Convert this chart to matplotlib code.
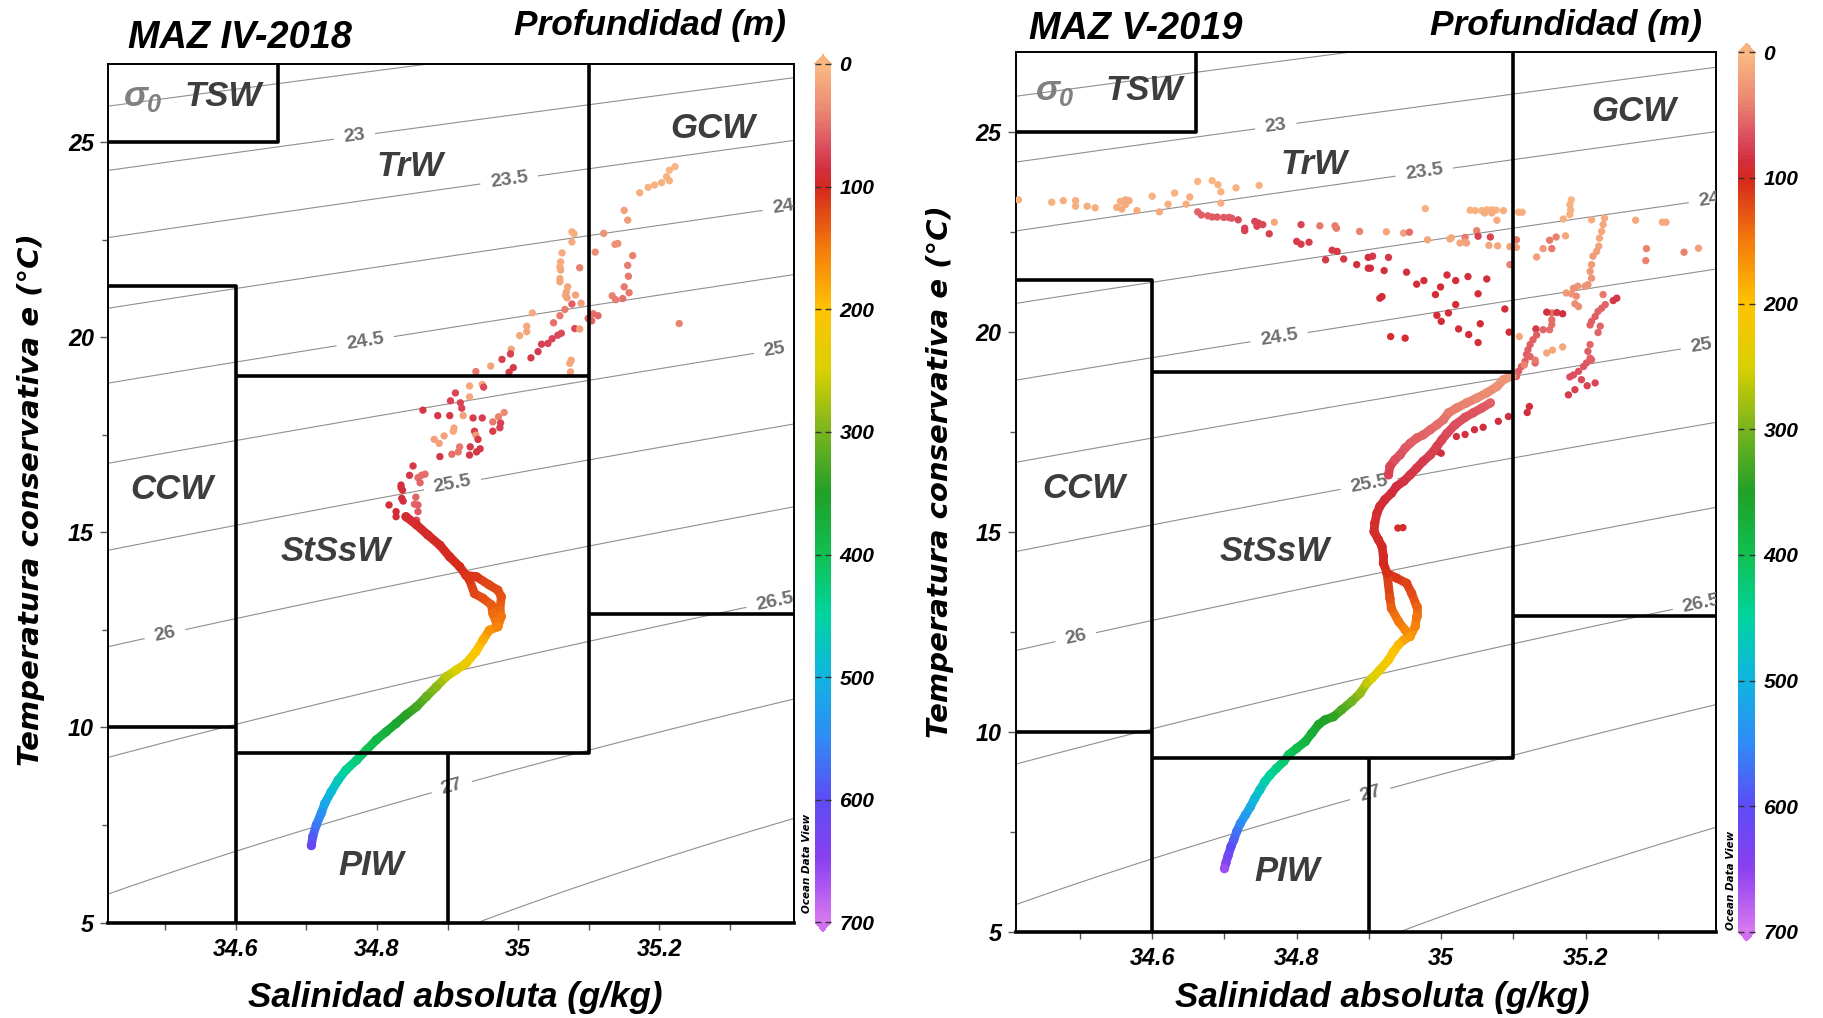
import numpy as np
import matplotlib
matplotlib.use("Agg")
import matplotlib.pyplot as plt
from matplotlib import font_manager
from matplotlib.collections import LineCollection
from matplotlib.colors import LinearSegmentedColormap, Normalize
from matplotlib.ticker import FormatStrFormatter

# ---------------- data ----------------
# MAZ IV-2018, scattered upper-layer samples (SA g/kg, CT degC, depth m)
s18_pts = [35.222, 35.214, 35.210, 35.214, 35.203, 35.193, 35.184, 35.172, 35.150, 35.155,
           35.121, 35.137, 35.141, 35.109, 35.162, 35.155, 35.156, 35.150, 35.133, 35.138,
           35.157, 35.148, 35.106, 35.113, 35.104, 35.099, 35.228, 35.076, 35.079, 35.076,
           35.062, 35.060, 35.059, 35.060, 35.059, 35.059, 35.070, 35.068, 35.067, 35.069,
           35.081, 35.087, 35.089, 35.076, 35.066, 35.059, 35.050, 35.061, 35.056, 35.048,
           35.042, 35.033, 35.028, 35.018, 35.080, 35.087, 35.075, 35.073, 35.074, 35.020,
           35.012, 35.012, 35.002, 34.990, 34.989, 34.977, 34.993, 34.987, 34.961, 34.940,
           34.949, 34.951, 34.931, 34.911, 34.904, 34.918, 34.920, 34.931, 34.922, 34.865,
           34.886, 34.903, 34.936, 34.949, 34.964, 34.972, 34.980, 34.975, 34.974, 34.964,
           34.938, 34.940, 34.909, 34.908, 34.895, 34.881, 34.888, 34.943, 34.946, 34.941,
           34.932, 34.917, 34.915, 34.906, 34.931, 34.889, 34.851, 34.846, 34.858, 34.863,
           34.868, 34.861, 34.834, 34.835, 34.837, 34.855, 34.853, 34.817, 34.834, 34.836,
           34.827, 34.827, 34.858, 34.858, 34.856]
t18_pts = [24.37, 24.28, 24.11, 24.01, 23.96, 23.90, 23.84, 23.70, 23.25, 23.00,
           22.66, 22.38, 22.40, 22.18, 22.09, 21.84, 21.56, 21.29, 21.06, 20.96,
           21.14, 20.99, 20.60, 20.55, 20.42, 20.48, 20.35, 22.70, 22.65, 22.44,
           22.16, 21.93, 21.80, 21.72, 21.50, 21.42, 21.29, 21.16, 21.07, 21.01,
           21.08, 21.78, 20.87, 20.85, 20.71, 20.55, 20.37, 20.10, 20.05, 19.96,
           19.84, 19.82, 19.63, 19.47, 20.22, 20.21, 19.41, 19.33, 19.11, 20.62,
           20.28, 20.14, 20.04, 19.69, 19.57, 19.43, 19.22, 19.10, 19.26, 19.12,
           18.79, 18.72, 18.75, 18.57, 18.37, 18.32, 18.18, 18.47, 17.99, 18.13,
           17.99, 17.99, 17.93, 17.93, 17.83, 17.96, 18.07, 17.80, 17.68, 17.59,
           17.59, 17.49, 17.67, 17.59, 17.47, 17.38, 17.28, 17.38, 17.14, 17.06,
           17.19, 17.19, 17.06, 17.00, 16.98, 16.94, 16.70, 16.46, 16.40, 16.46,
           16.49, 16.27, 16.15, 15.87, 15.80, 15.90, 15.72, 15.70, 16.21, 16.08,
           15.53, 15.40, 15.70, 15.53, 15.31]
z18_pts = [5, 5, 6, 6, 7, 8, 8, 10, 20, 22,
           30, 32, 32, 33, 40, 42, 45, 45, 40, 42,
           45, 48, 50, 52, 55, 55, 40, 10, 10, 12,
           12, 13, 13, 14, 14, 15, 15, 16, 16, 17,
           18, 40, 20, 60, 45, 45, 50, 70, 70, 72,
           72, 75, 78, 78, 70, 20, 15, 15, 18, 12,
           15, 15, 16, 18, 75, 75, 78, 78, 18, 45,
           15, 70, 15, 72, 75, 72, 72, 15, 18, 80,
           80, 80, 78, 78, 45, 40, 38, 75, 75, 78,
           78, 25, 15, 15, 18, 20, 20, 80, 80, 80,
           80, 45, 45, 50, 82, 82, 82, 82, 50, 50,
           50, 55, 85, 85, 85, 55, 55, 85, 85, 85,
           88, 90, 60, 62, 70]

# MAZ IV-2018, continuous deep trace
s18_prof = [34.841, 34.856, 34.872, 34.889, 34.903, 34.917, 34.926, 34.941, 34.959, 34.971,
            34.976, 34.974, 34.976, 34.971, 34.959, 34.950, 34.940, 34.926, 34.912, 34.898,
            34.884, 34.870, 34.856, 34.841, 34.827, 34.813, 34.799, 34.785, 34.771, 34.756,
            34.745, 34.735, 34.726, 34.721, 34.714, 34.709, 34.707]
t18_prof = [15.40, 15.19, 14.93, 14.67, 14.37, 14.12, 13.90, 13.86, 13.65, 13.52,
            13.35, 13.01, 12.84, 12.58, 12.49, 12.24, 11.94, 11.64, 11.47, 11.30,
            11.04, 10.79, 10.53, 10.32, 10.10, 9.89, 9.68, 9.42, 9.16, 8.91,
            8.65, 8.35, 8.05, 7.80, 7.50, 7.20, 6.97]
z18_prof = [92, 93, 95, 97, 100, 103, 108, 112, 118, 122,
            128, 138, 145, 158, 168, 185, 205, 225, 245, 265,
            290, 310, 330, 345, 360, 375, 390, 405, 425, 445,
            465, 490, 515, 540, 565, 590, 610]
s18_loop = [34.926, 34.931, 34.938, 34.950, 34.962, 34.964, 34.971]
t18_loop = [13.90, 13.78, 13.43, 13.31, 13.14, 12.92, 12.58]
z18_loop = [108, 112, 120, 125, 132, 140, 158]

# MAZ V-2019, scattered upper-layer samples
s19_pts = [34.415, 34.461, 34.477, 34.494, 34.494, 34.510, 34.521, 34.551, 34.556, 34.563,
           34.568, 34.558, 34.563, 34.579, 34.600, 34.610, 34.622, 34.631, 34.647, 34.652,
           34.663, 34.683, 34.691, 34.695, 34.695, 34.716, 34.748, 34.769, 34.663, 34.668,
           34.677, 34.683, 34.690, 34.699, 34.706, 34.710, 34.719, 34.728, 34.728, 34.742,
           34.747, 34.745, 34.753, 34.762, 34.806, 34.832, 34.853, 34.855, 34.887, 34.800,
           34.806, 34.817, 34.849, 34.856, 34.840, 34.865, 34.883, 34.899, 34.899, 34.978,
           35.040, 35.047, 35.056, 35.063, 35.070, 35.076, 35.060, 35.070, 35.086, 35.077,
           35.107, 35.112, 34.924, 34.948, 34.956, 34.981, 35.012, 35.014, 35.033, 35.033,
           35.026, 35.035, 35.049, 35.051, 35.068, 35.066, 35.078, 35.095, 35.104, 35.104,
           34.905, 34.927, 34.902, 34.921, 34.952, 34.966, 34.976, 35.008, 35.020, 35.037,
           35.063, 34.999, 34.992, 35.051, 34.915, 34.918, 35.020, 35.010, 34.994, 35.000,
           35.024, 35.038, 35.054, 35.051, 35.088, 35.094, 34.930, 34.950, 35.095, 35.150,
           35.159, 35.172, 35.141, 35.153, 35.132, 35.180, 35.178, 35.179, 35.178, 35.169,
           35.226, 35.224, 35.222, 35.219, 35.218, 35.215, 35.210, 35.208, 35.206, 35.208,
           35.208, 35.269, 35.306, 35.311, 35.284, 35.283, 35.336, 35.356, 35.203, 35.199,
           35.189, 35.183, 35.173, 35.180, 35.187, 35.185, 35.190, 35.224, 35.227, 35.222,
           35.217, 35.213, 35.208, 35.206, 35.243, 35.238, 35.220, 35.217, 35.153, 35.153,
           35.153, 35.150, 35.146, 35.160, 35.168, 35.131, 35.141, 35.132, 35.127, 35.123,
           35.120, 35.118, 35.116, 35.111, 35.107, 35.104, 35.123, 35.130, 35.146, 35.154,
           35.168, 35.108, 35.206, 35.203, 35.206, 35.208, 35.201, 35.197, 35.190, 35.183,
           35.178, 35.194, 35.202, 35.213, 35.185, 35.176, 35.122, 35.119, 35.079, 35.093,
           35.021, 35.033, 35.046, 35.058, 35.000, 34.996, 34.940, 34.947, 35.130, 35.115]
t19_pts = [23.31, 23.25, 23.29, 23.29, 23.15, 23.15, 23.11, 23.12, 23.27, 23.31,
           23.29, 23.08, 23.19, 23.04, 23.40, 23.01, 23.20, 23.48, 23.20, 23.38,
           23.77, 23.79, 23.69, 23.51, 23.23, 23.61, 23.67, 22.75, 23.01, 22.93,
           22.91, 22.88, 22.88, 22.87, 22.87, 22.85, 22.81, 22.60, 22.54, 22.77,
           22.73, 22.65, 22.69, 22.46, 22.69, 22.66, 22.66, 22.60, 22.52, 22.27,
           22.20, 22.25, 22.05, 22.02, 21.81, 21.83, 21.69, 21.87, 21.60, 23.09,
           23.05, 23.04, 23.04, 23.06, 23.06, 23.05, 22.98, 22.98, 23.04, 22.80,
           23.00, 23.00, 22.51, 22.48, 22.50, 22.31, 22.33, 22.36, 22.37, 22.25,
           22.23, 22.23, 22.54, 22.40, 22.38, 22.17, 22.16, 22.14, 22.12, 22.31,
           21.90, 21.87, 21.60, 21.54, 21.50, 21.20, 21.29, 21.43, 21.29, 21.39,
           21.33, 21.13, 20.94, 20.96, 20.85, 20.89, 20.69, 20.48, 20.42, 20.27,
           20.08, 19.94, 20.21, 19.74, 20.58, 20.00, 19.89, 19.85, 21.69, 22.30,
           22.38, 22.41, 22.09, 22.09, 21.88, 23.31, 23.19, 23.06, 22.94, 22.83,
           22.85, 22.69, 22.52, 22.35, 22.15, 22.02, 21.90, 21.69, 21.52, 21.35,
           22.81, 22.80, 22.75, 22.75, 22.09, 21.79, 22.00, 22.10, 21.19, 21.15,
           21.15, 21.10, 20.98, 20.96, 20.90, 20.71, 20.64, 20.94, 20.69, 20.60,
           20.52, 20.39, 20.27, 20.18, 20.85, 20.79, 20.15, 19.99, 20.48, 20.31,
           20.19, 20.06, 20.50, 20.49, 20.46, 20.08, 20.06, 19.93, 19.81, 19.69,
           19.56, 19.44, 19.27, 19.14, 19.02, 18.89, 19.39, 19.23, 19.48, 19.55,
           19.63, 19.89, 19.69, 19.52, 19.35, 19.31, 19.23, 19.14, 19.02, 18.93,
           18.88, 18.81, 18.66, 18.73, 18.56, 18.43, 18.14, 17.99, 17.77, 17.89,
           17.39, 17.44, 17.56, 17.62, 16.97, 17.01, 15.10, 15.11, 19.30, 19.18]
z19_pts = [8, 8, 10, 10, 10, 10, 10, 10, 10, 10,
           12, 12, 12, 12, 8, 12, 10, 8, 10, 10,
           5, 5, 6, 8, 10, 8, 8, 15, 55, 60,
           60, 60, 62, 62, 62, 62, 70, 75, 75, 72,
           72, 72, 72, 75, 72, 45, 45, 45, 40, 78,
           78, 78, 80, 80, 82, 82, 85, 85, 85, 8,
           8, 8, 8, 8, 8, 8, 10, 10, 10, 12,
           10, 10, 15, 20, 50, 15, 15, 15, 45, 18,
           15, 18, 40, 75, 72, 15, 15, 18, 18, 45,
           82, 82, 85, 85, 85, 88, 88, 85, 85, 85,
           85, 88, 88, 88, 88, 88, 88, 88, 90, 90,
           90, 90, 90, 90, 90, 90, 92, 92, 40, 45,
           40, 15, 25, 45, 20, 5, 6, 7, 8, 10,
           12, 14, 15, 16, 18, 20, 22, 24, 26, 28,
           10, 12, 12, 12, 40, 40, 40, 20, 30, 30,
           30, 32, 25, 30, 35, 35, 35, 45, 55, 55,
           55, 58, 60, 60, 80, 80, 55, 55, 50, 50,
           50, 50, 85, 80, 85, 80, 55, 60, 60, 60,
           60, 60, 60, 60, 60, 60, 55, 55, 15, 15,
           15, 15, 55, 58, 60, 60, 62, 65, 65, 68,
           68, 70, 72, 72, 75, 78, 85, 85, 85, 85,
           85, 85, 85, 85, 85, 85, 95, 95, 45, 40]

# MAZ V-2019, continuous traces
s19_outer = [35.098, 35.086, 35.077, 35.063, 35.049, 35.035, 35.021, 35.010, 35.003, 34.994,
             34.985, 34.975, 34.966, 34.957, 34.950, 34.943, 34.936, 34.929, 34.927]
t19_outer = [18.90, 18.81, 18.64, 18.48, 18.35, 18.23, 18.10, 17.98, 17.81, 17.68,
             17.56, 17.43, 17.35, 17.22, 17.10, 16.93, 16.81, 16.64, 16.43]
z19_outer = [25, 30, 32, 35, 38, 40, 42, 45, 48, 50,
             52, 55, 58, 60, 62, 65, 68, 72, 75]
s19_prof = [35.068, 35.056, 35.044, 35.033, 35.019, 35.008, 35.001, 34.994, 34.985, 34.975,
            34.966, 34.957, 34.948, 34.938, 34.931, 34.922, 34.915, 34.911, 34.908, 34.907,
            34.913, 34.918, 34.920, 34.920, 34.925, 34.938, 34.952, 34.959, 34.966, 34.966,
            34.964, 34.957, 34.948, 34.941, 34.934, 34.927, 34.915, 34.904, 34.897, 34.888,
            34.876, 34.862, 34.851, 34.839, 34.830, 34.821, 34.812, 34.800, 34.789, 34.782,
            34.772, 34.763, 34.756, 34.749, 34.742, 34.736, 34.729, 34.722, 34.717, 34.713,
            34.709, 34.705, 34.702, 34.700]
t19_prof = [18.23, 18.10, 17.98, 17.87, 17.68, 17.47, 17.31, 17.14, 16.93, 16.77,
            16.60, 16.43, 16.27, 16.14, 15.97, 15.81, 15.64, 15.47, 15.22, 15.01,
            14.81, 14.64, 14.39, 14.22, 13.97, 13.85, 13.72, 13.47, 13.14, 12.89,
            12.64, 12.39, 12.30, 12.18, 12.01, 11.80, 11.55, 11.34, 11.22, 10.97,
            10.76, 10.55, 10.38, 10.30, 10.18, 9.97, 9.76, 9.59, 9.43, 9.26,
            9.09, 8.92, 8.76, 8.55, 8.34, 8.13, 7.92, 7.71, 7.51, 7.30,
            7.13, 6.90, 6.72, 6.58]
z19_prof = [60, 62, 64, 66, 68, 70, 72, 74, 76, 78,
            80, 82, 84, 86, 88, 90, 91, 92, 93, 94,
            95, 96, 98, 100, 105, 110, 115, 122, 135, 145,
            155, 170, 180, 192, 202, 212, 228, 245, 262, 285,
            305, 325, 340, 348, 358, 370, 382, 395, 408, 420,
            433, 446, 458, 475, 492, 508, 528, 548, 568, 585,
            600, 620, 640, 660]
s19_loop = [34.925, 34.929, 34.931, 34.941, 34.950, 34.957]
t19_loop = [13.97, 13.34, 13.09, 12.76, 12.55, 12.39]
z19_loop = [105, 125, 135, 150, 160, 170]

# water mass limits
S_TSW, S_CCW, S_PIW, S_GCW = 34.66, 34.6, 34.9, 35.1
T_TSW, T_CCW_TOP, T_TRW, T_GCW, T_CCW_BOT, T_STSSW = 25.0, 21.3, 19.0, 12.9, 10.0, 9.35

sig_plain = [22.5, 27.5]
sig_labeled = [23, 23.5, 24, 24.5, 25, 25.5, 26, 26.5, 27]

depth_stops = [0, 35, 65, 85, 100, 150, 200, 250, 300, 350, 400, 450, 500, 550, 600, 650, 700]
depth_colors = ["#fbb983", "#eb8a72", "#dc5060", "#d22f3e", "#d5281c", "#f47c0c", "#ffc400",
                "#d8d000", "#78b41e", "#20a028", "#10c050", "#00d4a0", "#10b4e0", "#2f8cf5",
                "#5c4cf5", "#8a40f0", "#d878f0"]
depth_ticks = [0, 100, 200, 300, 400, 500, 600, 700]

# ---------------- fonts ----------------
names = {f.name for f in font_manager.fontManager.ttflist}
if "Liberation Sans Narrow" in names:
    NARROW, k, kt = "Liberation Sans Narrow", 1.0, 1.0
else:
    NARROW, k, kt = "Liberation Sans", 0.84, 0.94
plt.rcParams["font.family"] = [NARROW, "DejaVu Sans"]
plt.rcParams["font.weight"] = "bold"
plt.rcParams["font.style"] = "italic"
plt.rcParams["mathtext.fontset"] = "custom"
plt.rcParams["mathtext.it"] = "Liberation Sans:italic:bold"
plt.rcParams["mathtext.rm"] = "Liberation Sans:bold"

cmap = LinearSegmentedColormap.from_list(
    "odv", [(z / 700, c) for z, c in zip(depth_stops, depth_colors)])
cmap.set_under("#f9b47e")
cmap.set_over("#d070f0")
norm = Normalize(0, 700)


def sigma0(sa, ct):
    # EOS-80 density at the surface, practical salinity from SA
    s = sa * 35.0 / 35.16504
    t = ct
    rw = (999.842594 + 6.793952e-2 * t - 9.095290e-3 * t**2 + 1.001685e-4 * t**3
          - 1.120083e-6 * t**4 + 6.536332e-9 * t**5)
    rho = (rw + s * (0.824493 - 4.0899e-3 * t + 7.6438e-5 * t**2 - 8.2467e-7 * t**3 + 5.3875e-9 * t**4)
           + s**1.5 * (-5.72466e-3 + 1.0227e-4 * t - 1.6546e-6 * t**2) + 4.8314e-4 * s**2)
    return rho - 1000.0


def trace(ax, s, t, z, lw=6.3):
    pts = np.column_stack([s, t])
    segs = np.stack([pts[:-1], pts[1:]], axis=1)
    zz = np.asarray(z, float)
    lc = LineCollection(segs, cmap=cmap, norm=norm, linewidths=lw, capstyle="round", zorder=3)
    lc.set_array((zz[:-1] + zz[1:]) / 2)
    ax.add_collection(lc)
    ax.scatter(s, t, c=z, cmap=cmap, norm=norm, s=44, linewidths=0, zorder=3)


def draw_panel(ax, cax, xlim, pts, traces, lab_pos, name_pos, extfrac):
    ax.set_xlim(*xlim)
    ax.set_ylim(5, 27)
    sg, tg = np.meshgrid(np.linspace(34.3, 35.5, 241), np.linspace(4, 28, 241))
    sig = sigma0(sg, tg)
    ax.contour(sg, tg, sig, levels=sig_plain, colors="#8f8f8f", linewidths=0.8, zorder=1)
    cs = ax.contour(sg, tg, sig, levels=sig_labeled, colors="#8f8f8f", linewidths=0.8, zorder=1)
    with plt.rc_context({"font.family": "Liberation Sans", "font.weight": "bold",
                         "font.style": "normal"}):
        labs = ax.clabel(cs, manual=lab_pos, fmt="%g", fontsize=14,
                         colors="#6f6f6f", inline=True, inline_spacing=10)
    for lb in labs:
        lb.set_clip_on(True)

    s_pts, t_pts, z_pts = pts
    ax.scatter(s_pts, t_pts, c=z_pts, cmap=cmap, norm=norm, s=28, linewidths=0, zorder=3)
    for s, t, z in traces:
        trace(ax, s, t, z)

    x0, x1 = xlim
    edges = [
        [(x0, T_TSW), (S_TSW, T_TSW), (S_TSW, 27)],
        [(x0, T_CCW_TOP), (S_CCW, T_CCW_TOP), (S_CCW, 5)],
        [(S_CCW, T_TRW), (S_GCW, T_TRW)],
        [(S_GCW, 27), (S_GCW, T_STSSW), (S_CCW, T_STSSW)],
        [(S_GCW, T_GCW), (x1, T_GCW)],
        [(x0, T_CCW_BOT), (S_CCW, T_CCW_BOT)],
        [(S_PIW, T_STSSW), (S_PIW, 5)],
    ]
    ax.add_collection(LineCollection(edges, colors="black", linewidths=2.6, zorder=4))

    for name, (x, y) in name_pos.items():
        if name == "sigma":
            ax.text(x, y, r"$\sigma_\mathit{0}$", color="#808080", fontsize=26,
                    ha="center", va="center", zorder=5)
        else:
            ax.text(x, y, name, family="Liberation Sans", weight="bold", style="italic",
                    fontsize=25, color="#3d3d3d", ha="center", va="center", zorder=5)

    ax.set_xticks([34.6, 34.8, 35.0, 35.2])
    ax.set_xticks([34.5, 34.7, 34.9, 35.1, 35.3], minor=True)
    ax.set_yticks([5, 10, 15, 20, 25])
    ax.set_yticks([7.5, 12.5, 17.5, 22.5], minor=True)
    ax.xaxis.set_major_formatter(FormatStrFormatter("%g"))
    ax.tick_params(axis="x", which="both", direction="out", length=5, width=1,
                   color="#555555", pad=6, labelsize=20 * k)
    ax.tick_params(axis="y", which="major", direction="out", length=6, width=1,
                   color="#555555", pad=4, labelsize=20 * k)
    ax.tick_params(axis="y", which="minor", direction="out", length=4, width=1, color="#555555")
    for side in ["left", "right", "top"]:
        ax.spines[side].set_linewidth(1.4)
    ax.spines["bottom"].set_linewidth(2.6)

    cb = plt.colorbar(plt.cm.ScalarMappable(norm=norm, cmap=cmap), cax=cax, extend="both",
                      extendfrac=extfrac, ticks=depth_ticks)
    cb.ax.invert_yaxis()
    cb.outline.set_visible(False)
    cb.ax.tick_params(direction="in", length=4, width=1, color="#333333", left=True,
                      right=True, labelsize=18 * k, pad=6)


fig = plt.figure(figsize=(18.24, 10.18), dpi=100)

ax1 = fig.add_axes([0.0592, 0.0938, 0.3763, 0.8433])
cax1 = fig.add_axes([0.4468, 0.0850, 0.0088, 0.8610])
ax2 = fig.add_axes([0.5568, 0.0847, 0.3839, 0.8639])
cax2 = fig.add_axes([0.9529, 0.0758, 0.0093, 0.8816])

lab18 = [(34.768, 25.15), (34.987, 24.04), (35.375, 23.33), (34.783, 19.93), (35.363, 19.69),
         (34.907, 16.22), (34.50, 12.37), (35.363, 13.24), (34.906, 8.46)]
lab19 = [(34.771, 25.17), (34.976, 24.07), (35.371, 23.31), (34.776, 19.83), (35.360, 19.65),
         (34.900, 16.19), (34.494, 12.38), (35.360, 13.20), (34.900, 8.55)]
names18 = {"sigma": (34.468, 26.16), "TSW": (34.582, 26.16), "TrW": (34.846, 24.37),
           "GCW": (35.276, 25.36), "CCW": (34.509, 16.10), "StSsW": (34.742, 14.52),
           "PIW": (34.792, 6.46)}
names19 = {"sigma": (34.465, 26.05), "TSW": (34.589, 26.05), "TrW": (34.824, 24.19),
           "GCW": (35.266, 25.52), "CCW": (34.505, 16.08), "StSsW": (34.769, 14.51),
           "PIW": (34.787, 6.51)}

draw_panel(ax1, cax1, (34.419, 35.391), (s18_pts, t18_pts, z18_pts),
           [(s18_prof, t18_prof, z18_prof), (s18_loop, t18_loop, z18_loop)],
           lab18, names18, 0.0105)
draw_panel(ax2, cax2, (34.411, 35.380), (s19_pts, t19_pts, z19_pts),
           [(s19_outer, t19_outer, z19_outer), (s19_prof, t19_prof, z19_prof),
            (s19_loop, t19_loop, z19_loop)],
           lab19, names19, 0.0102)

# titles and axis labels
fig.text(0.0702, 0.9627, "MAZ IV-2018", fontsize=29 * kt, ha="left", va="center")
fig.text(0.5644, 0.9715, "MAZ V-2019", fontsize=29 * kt, ha="left", va="center")
fig.text(0.431, 0.9749, "Profundidad (m)", fontsize=27 * kt, ha="right", va="center")
fig.text(0.9331, 0.9749, "Profundidad (m)", fontsize=27 * kt, ha="right", va="center")
fig.text(0.2495, 0.0206, "Salinidad absoluta (g/kg)", fontsize=30 * k, ha="center", va="center")
fig.text(0.7577, 0.0206, "Salinidad absoluta (g/kg)", fontsize=30 * k, ha="center", va="center")
for x, y in [(0.017, 0.509), (0.5154, 0.537)]:
    fig.text(x, y, "Temperatura conservativa e (°C)", family="DejaVu Sans", weight="bold",
             style="oblique", fontsize=21, rotation=90, ha="center", va="center")
for x, y in [(0.4424, 0.152), (0.949, 0.1356)]:
    fig.text(x, y, "Ocean Data View", family="DejaVu Sans", weight="bold", style="oblique",
             fontsize=7.5, rotation=90, ha="center", va="center")

fig.savefig("out.png", dpi=100)
